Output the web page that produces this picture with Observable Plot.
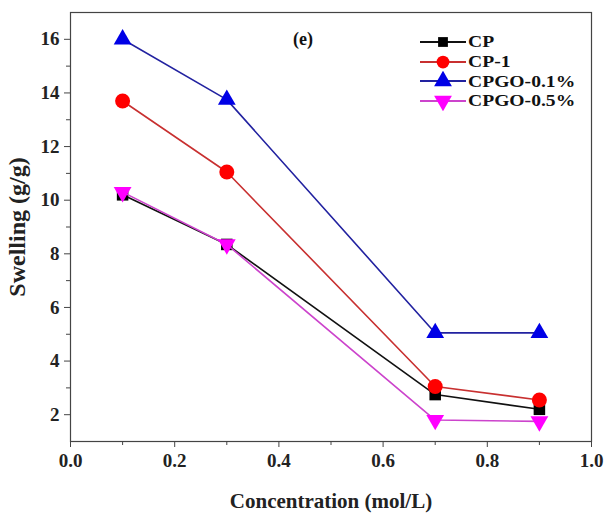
<!DOCTYPE html>
<html>
<head>
<meta charset="utf-8">
<script src="https://cdn.jsdelivr.net/npm/d3@7"></script>
<script src="https://cdn.jsdelivr.net/npm/@observablehq/plot@0.6"></script>
<style>
  html, body { margin: 0; padding: 0; background: #fff; }
  #wrap { position: relative; width: 606px; height: 515px; font-family: "Liberation Serif", "Times New Roman", serif; font-weight: bold; }
  #legend { position: absolute; left: 418px; top: 32px; }
  .row { display: flex; align-items: center; height: 19.7px; font-size: 17.5px; line-height: 17px; color: #111; white-space: nowrap; }
  .row span { display: inline-block; line-height: 17px; height: 17px; transform: scaleX(1.12); transform-origin: left center; }
  #tag { position: absolute; left: 293px; top: 29px; font-size: 18px; color: #111; }
</style>
</head>
<body>
<div id="wrap"></div>
<script>
const concentration = [0.1, 0.3, 0.7, 0.9];
const seriesNames = ["CP", "CP-1", "CPGO-0.1%", "CPGO-0.5%"];
const cp     = [10.2, 8.35, 2.75, 2.2];
const cp1    = [13.7, 11.05, 3.05, 2.55];
const cpgo01 = [16.0, 13.75, 5.05, 5.05];
const cpgo05 = [10.3, 8.35, 1.8, 1.75];
const xTicks = [0, 0.2, 0.4, 0.6, 0.8, 1.0];
const yTicks = [2, 4, 6, 8, 10, 12, 14, 16];

const values = [cp, cp1, cpgo01, cpgo05];
const styles = [
  {line: "#111111", fill: "#000000", symbol: "square", r: 6.5, rotate: 0},
  {line: "#c83030", fill: "#ff0000", symbol: "circle", r: 7.5, rotate: 0},
  {line: "#2222a0", fill: "#0000e6", symbol: "triangle", r: 6.6, rotate: 0},
  {line: "#cc44cc", fill: "#ff00ff", symbol: "triangle", r: 6.6, rotate: 180}
];

const marks = [];
values.forEach((vals, s) => {
  const rows = concentration.map((c, i) => ({c, v: vals[i], name: seriesNames[s]}));
  const st = styles[s];
  marks.push(Plot.line(rows, {x: "c", y: "v", stroke: st.line, strokeWidth: 1.6}));
  marks.push(Plot.dot(rows, {x: "c", y: "v", symbol: st.symbol, r: st.r, fill: st.fill, stroke: "none", rotate: st.rotate}));
});

const chart = Plot.plot({
  width: 606,
  height: 515,
  marginLeft: 70,
  marginRight: 15,
  marginTop: 12,
  marginBottom: 74,
  x: {domain: [0, 1]},
  y: {domain: [1, 17]},
  style: {fontFamily: "'Liberation Serif', 'Times New Roman', serif", fontWeight: "bold", fontSize: "19px", color: "#222", background: "#fff"},
  marks: [
    Plot.frame({stroke: "#444", strokeWidth: 1.2}),
    Plot.axisX({ticks: xTicks, tickFormat: d3.format(".1f"), tickSize: 6, tickPadding: 6, fontSize: 19, label: null, stroke: "#444"}),
    Plot.axisX({ticks: [], label: "Concentration (mol/L)", labelAnchor: "center", labelArrow: "none", labelOffset: 66, fontSize: 21, stroke: "#444"}),
    Plot.axisX({ticks: d3.range(0.1, 1, 0.2), tickSize: 4, text: null, label: null, stroke: "#444"}),
    Plot.axisY({ticks: yTicks, tickSize: 6, tickPadding: 5, fontSize: 19, label: null, stroke: "#444"}),
    Plot.axisY({ticks: [], label: "Swelling (g/g)", labelAnchor: "center", labelArrow: "none", labelOffset: 63, fontSize: 24, stroke: "#444"}),
    Plot.axisY({ticks: d3.range(3, 17, 2), tickSize: 4, text: null, label: null, stroke: "#444"}),
    ...marks
  ]
});

const wrap = document.getElementById("wrap");
wrap.appendChild(chart);

const tag = document.createElement("div");
tag.id = "tag";
tag.textContent = "(e)";
wrap.appendChild(tag);

const legend = document.createElement("div");
legend.id = "legend";
const symbolPaths = {
  square: d3.symbol(d3.symbolSquare, Math.PI * 6.5 * 6.5)(),
  circle: d3.symbol(d3.symbolCircle, Math.PI * 7.5 * 7.5)(),
  triangle: d3.symbol(d3.symbolTriangle, Math.PI * 6.6 * 6.6)()
};
seriesNames.forEach((name, s) => {
  const st = styles[s];
  const row = document.createElement("div");
  row.className = "row";
  const sz = st.symbol === "triangle" ? 1 : 0.85;
  row.innerHTML = `<svg width="50" height="20"><line x1="2" x2="48" y1="10" y2="10" stroke="${st.line}" stroke-width="2.2"/><path d="${symbolPaths[st.symbol]}" fill="${st.fill}" transform="translate(25,10) rotate(${st.rotate}) scale(${sz})"/></svg><span>${name}</span>`;
  legend.appendChild(row);
});
wrap.appendChild(legend);
</script>
</body>
</html>
